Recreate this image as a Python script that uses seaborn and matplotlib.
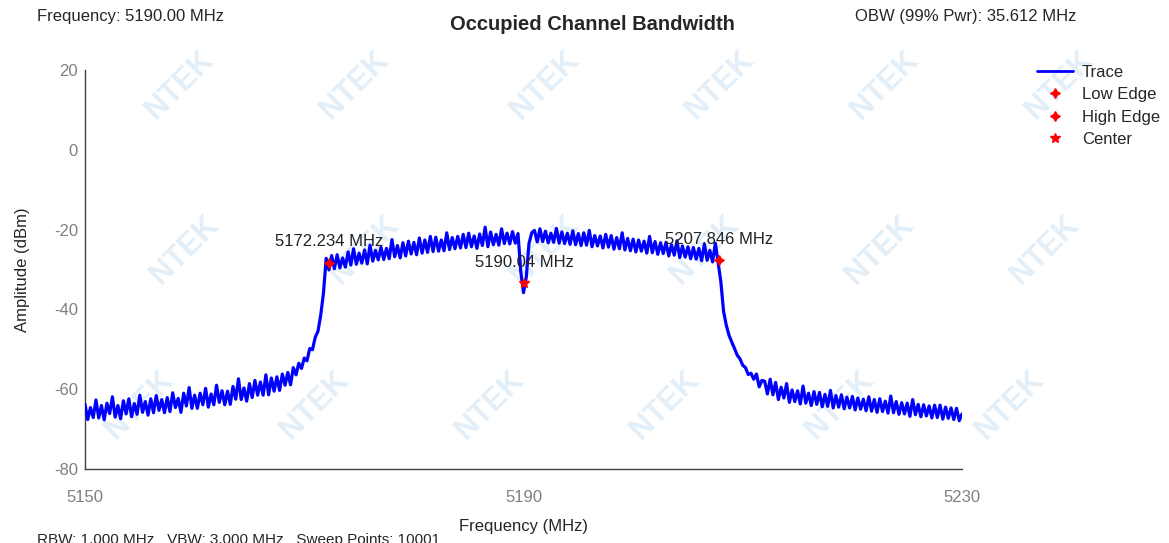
import numpy as np
import matplotlib
matplotlib.use("Agg")
import matplotlib.pyplot as plt
import seaborn as sns

sns.set_style("white")
plt.rcParams["font.family"] = ["Liberation Sans", "DejaVu Sans"]
plt.rcParams["axes.unicode_minus"] = False

# Spectrum trace, 0.25 MHz steps from 5150 to 5230 MHz (dBm)
freq_start, freq_stop, freq_step = 5150.0, 5230.0, 0.25
trace = [
    -63.8, -67.6, -64.6, -67.1,  -62.7, -67.2, -64.1, -67.7,  -63.5, -66.1, -61.9, -67.0,
    -64.1, -67.4, -62.9, -66.2,  -62.4, -66.9, -63.6, -66.3,  -61.5, -65.8, -63.1, -66.5,
    -62.4, -65.9, -61.6, -65.3,  -62.6, -65.9, -62.1, -65.6,  -60.9, -64.6, -62.3, -65.8,
    -61.0, -64.2, -59.6, -64.8,  -61.5, -64.8, -61.0, -63.9,  -59.8, -64.5, -61.2, -63.9,
    -59.0, -63.3, -60.4, -63.9,  -60.5, -63.8, -59.3, -62.5,  -57.4, -62.6, -59.7, -63.0,
    -58.6, -62.1, -57.8, -61.5,  -58.2, -61.5, -56.4, -61.4,  -57.2, -60.5, -56.9, -60.3,
    -56.2, -59.0, -55.8, -58.9,  -54.6, -56.4, -53.5, -54.8,  -52.2, -52.9, -49.8, -50.1,
    -47.0, -45.5, -41.5, -36.0,  # 5171
    -27.2, -30.1, -26.5, -29.8,  -26.3, -29.6, -27.1, -29.4,  -25.6, -28.9, -24.8, -28.7,
    -25.9, -28.4, -25.1, -28.6,  -23.9, -27.9, -25.2, -27.6,  -24.4, -27.5, -24.7, -27.3,
    -22.5, -26.8, -24.0, -27.1,  -23.3, -26.6, -22.9, -26.1,  -23.2, -26.3, -22.1, -25.9,
    -22.6, -25.7, -21.7, -25.5,  -21.9, -25.4, -22.6, -25.3,  -20.8, -25.0, -22.0, -24.8,
    -21.7, -24.6, -21.2, -24.5,  -20.9, -24.3, -21.6, -24.7,  -21.1, -24.0, -19.4, -24.3,
    -20.6, -23.8, -21.2, -23.9,  -19.8, -23.5, -20.9, -23.6,  -20.5, -23.4, -21.0, -30.5,
    -35.8, -32.0, -23.5, -20.8,  # 5190
    -20.2, -23.1, -19.8, -23.0,  -20.4, -23.3, -20.9, -23.2,  -19.7, -23.4, -20.6, -23.5,
    -20.9, -23.7, -20.3, -23.8,  -21.0, -24.0, -20.8, -23.9,  -20.2, -24.3, -21.5, -24.1,
    -21.6, -24.6, -21.2, -24.4,  -21.5, -24.9, -22.0, -24.8,  -20.8, -25.1, -22.2, -25.3,
    -22.4, -25.6, -22.6, -25.4,  -22.9, -25.9, -21.7, -25.8,  -23.0, -26.2, -23.3, -26.0,
    -23.2, -26.6, -23.8, -26.4,  -22.8, -27.0, -24.1, -26.9,  -24.3, -27.3, -24.5, -27.4,
    -24.7, -27.8, -23.6, -27.7,  -25.2, -28.1, -23.4, -28.3,
    -33.0, -40.5, -44.0, -46.5,  -48.2, -49.8, -51.5, -52.4,  -54.0, -54.6, -56.3, -56.0,
    -57.5, -56.2, -59.4, -57.8,  # 5211
    -58.0, -61.2, -57.5, -61.4,  -58.3, -62.6, -59.5, -62.2,  -58.6, -63.3, -60.2, -63.1,
    -60.4, -63.7, -59.2, -63.5,  -61.0, -64.1, -60.6, -63.8,  -60.8, -64.4, -61.3, -64.3,
    -60.3, -64.7, -61.6, -64.5,  -61.4, -64.9, -62.0, -64.7,  -61.8, -65.2, -62.2, -65.0,
    -62.5, -65.4, -61.9, -65.5,  -62.6, -65.8, -62.4, -65.6,  -63.0, -66.0, -61.7, -65.9,
    -63.1, -66.3, -63.4, -66.2,  -63.5, -66.8, -62.6, -66.4,  -63.8, -66.9, -63.9, -66.7,
    -64.2, -67.2, -64.0, -67.1,  -64.0, -67.5, -64.5, -67.3,  -64.7, -67.6, -64.8, -67.9,
    -66.2,
]
freq = np.arange(len(trace)) * freq_step + freq_start

# OBW markers
marker_names = ["Low Edge", "High Edge", "Center"]
marker_freq = [5172.234, 5207.846, 5190.04]
marker_amp = [-28.3, -27.7, -33.5]
marker_labels = ["5172.234 MHz", "5207.846 MHz", "5190.04 MHz"]
marker_shapes = [(4, 1, 0), (4, 1, 0), "*"]

x_ticks = [5150, 5190, 5230]
y_ticks = [20, 0, -20, -40, -60, -80]

W, H = 1169, 543
fig = plt.figure(figsize=(W / 100, H / 100), dpi=100)
ax = fig.add_axes([85 / W, 1 - 469 / H, (962 - 85) / W, (469 - 70) / H])
ax.set_zorder(2)

# faint "NTEK" watermark tiles (pixel positions of the tiles)
wm_rows = {
    85: [180, 355, 545, 720, 885, 1060],
    250: [185, 365, 545, 705, 880, 1045],
    405: [140, 315, 490, 665, 840, 1010],
}
for yy, xs in wm_rows.items():
    for xx in xs:
        fig.text(xx / W, 1 - yy / H, "NTEK", rotation=45, fontsize=22,
                 fontweight="bold", color="#e2eef8", ha="center", va="center",
                 zorder=0)

sns.lineplot(x=freq, y=trace, ax=ax, color="#0000ff", linewidth=2.3,
             label="Trace", zorder=3)
for name, fx, fy, shp, lab in zip(marker_names, marker_freq, marker_amp,
                                  marker_shapes, marker_labels):
    ax.plot([fx], [fy], linestyle="none", marker=shp, color="#ff0000",
            markersize=7, label=name, zorder=4)
    ax.annotate(lab, xy=(fx, fy), xytext=(0, 21), textcoords="offset pixels",
                ha="center", va="center", fontsize=12, color="#222222", zorder=5)

ax.set_xlim(5150, 5230)
ax.set_ylim(-80, 20)
ax.set_xticks(x_ticks)
ax.set_yticks(y_ticks)
ax.tick_params(axis="x", length=0, pad=15, labelsize=12, labelcolor="#808080")
ax.tick_params(axis="y", length=0, pad=5, labelsize=12, labelcolor="#808080")
ax.set_xlabel("Frequency (MHz)", fontsize=12, labelpad=10)
ax.set_ylabel("Amplitude (dBm)", fontsize=12, labelpad=17)
ax.patch.set_alpha(0)
for s in ["top", "right"]:
    ax.spines[s].set_visible(False)
for s in ["left", "bottom"]:
    ax.spines[s].set_color("#404040")
    ax.spines[s].set_linewidth(1.0)

leg = ax.legend(loc="upper left", bbox_to_anchor=(1030 / W, 1 - 58 / H),
                bbox_transform=fig.transFigure, frameon=False, fontsize=12,
                handlelength=2.2, handletextpad=0.5, labelspacing=0.45,
                borderaxespad=0)
leg.get_lines()[0].set_linewidth(2.0)

fig.text(592 / W, 1 - 24 / H, "Occupied Channel Bandwidth", ha="center",
         va="center", fontsize=14.5, fontweight="bold")
fig.text(37 / W, 1 - 17 / H, "Frequency: 5190.00 MHz", ha="left", va="center",
         fontsize=12)
fig.text(855 / W, 1 - 17 / H, "OBW (99% Pwr): 35.612 MHz", ha="left",
         va="center", fontsize=12)
fig.text(37 / W, 1 - 540 / H, "RBW: 1.000 MHz   VBW: 3.000 MHz   Sweep Points: 10001",
         ha="left", va="center", fontsize=11)

fig.savefig("out.png", dpi=100)
